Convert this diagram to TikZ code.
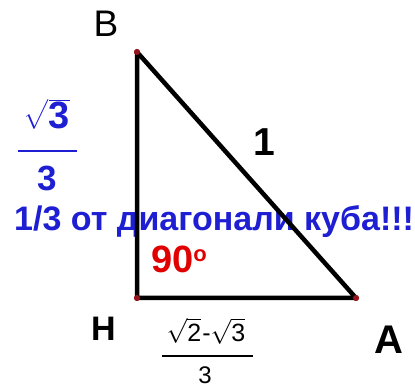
\documentclass[tikz,border=0pt]{standalone}
\usepackage{amsmath}
\usepackage{fontspec}
\setmainfont{Liberation Sans}
\definecolor{myblue}{RGB}{30,30,210}
\definecolor{myred}{RGB}{225,0,0}
\definecolor{dotred}{RGB}{150,20,30}
\tikzset{
  lbl/.style={inner sep=0pt, font=\fontsize{37}{39}\selectfont},
  blbl/.style={inner sep=0pt, font=\fontsize{34}{36}\selectfont\bfseries},
  side/.style={line width=4.5pt, line cap=round, line join=round},
  vdot/.style={circle, fill=dotred, inner sep=0pt, minimum size=6pt},
  bluetxt/.style={inner sep=0pt, text=myblue, font=\fontsize{38}{40}\selectfont\bfseries},
  fracbar/.style={line width=2.2pt}
}
\begin{document}
\begin{tikzpicture}[x=1pt,y=-1pt]
\useasboundingbox (0,0) rectangle (415,387);
% texts
\node[lbl, anchor=center] (lB) at (106,24) {B};
\node[blbl, anchor=center] (lH) at (103.5,329) {H};
\node[blbl, font=\fontsize{40}{42}\selectfont\bfseries, anchor=center] (lA) at (389,340) {A};
\node[inner sep=0pt, font=\fontsize{39}{41}\selectfont\bfseries, anchor=center] (l1) at (264,142) {1};
% left fraction
\node[bluetxt, anchor=center] (fln) at (47,114) {$\sqrt{\text{3}}$};
\node[bluetxt, font=\fontsize{35}{37}\selectfont\bfseries, anchor=center] (fld) at (47.5,178) {3};
\coordinate (flL) at (18,151);
\coordinate (flR) at (77,151);
\draw[fracbar, myblue] (flL) -- (flR);
% note
\node[inner sep=0pt, text=myblue, font=\fontsize{34}{36}\selectfont\bfseries, anchor=base west] (note) at (14,231) {1/3 от диагонали куба!!!};
\node[inner sep=0pt, text=myred, font=\fontsize{38}{40}\selectfont\bfseries, anchor=base west] (ang) at (151,273) {90\raisebox{11pt}{\fontsize{22}{22}\selectfont o}};
% bottom fraction
\node[inner sep=0pt, font=\fontsize{25}{27}\selectfont, anchor=center] (fbn) at (206,331) {$\sqrt{\text{2}}$\kern1pt-$\sqrt{\text{3}}$};
\node[inner sep=0pt, font=\fontsize{24}{26}\selectfont, anchor=center] (fbd) at (205,375) {3};
\coordinate (fbL) at (162,356);
\coordinate (fbR) at (253,356);
\draw[line width=1.5pt] (fbL) -- (fbR);
% triangle
\node[vdot] (B) at (137,52) {};
\node[vdot] (H) at (137,298) {};
\node[vdot] (A) at (356,298) {};
\draw[side] (B.center) -- (H.center) -- (A.center) -- cycle;
\node[vdot] at (B) {};
\node[vdot] at (H) {};
\node[vdot] at (A) {};
\end{tikzpicture}
\end{document}
